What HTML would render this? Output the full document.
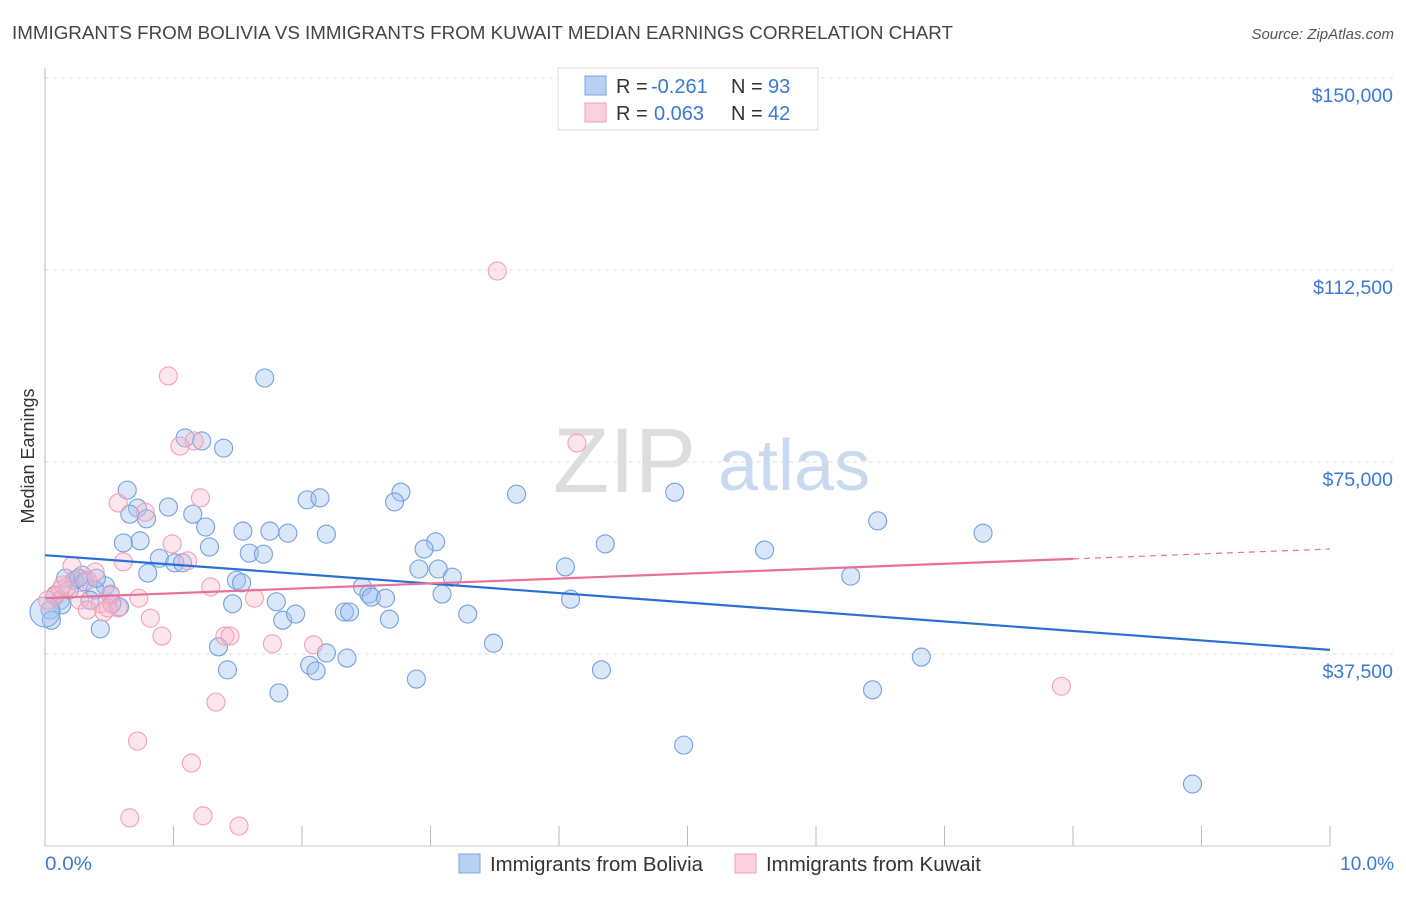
<!DOCTYPE html>
<html><head><meta charset="utf-8"><style>
body{margin:0;background:#fff;font-family:"Liberation Sans",sans-serif;}
svg text{font-family:"Liberation Sans",sans-serif;}
</style></head><body>
<svg id="chart" width="1406" height="892">
<text x="12" y="39" font-size="18" fill="#444" textLength="941" lengthAdjust="spacingAndGlyphs">IMMIGRANTS FROM BOLIVIA VS IMMIGRANTS FROM KUWAIT MEDIAN EARNINGS CORRELATION CHART</text>
<text x="1394" y="39" font-size="15" fill="#555" font-style="italic" text-anchor="end">Source: ZipAtlas.com</text>
<g><text x="553" y="492" font-size="92" fill="#ddd" font-family="Liberation Serif,serif">ZIP</text><text x="718" y="490" font-size="72" fill="#c9daf0">atlas</text></g>
<g id="grid"></g><g id="marks"></g>
<text transform="translate(34,456) rotate(-90)" font-size="18" fill="#333" text-anchor="middle">Median Earnings</text>
<text x="45" y="870" font-size="19" fill="#3a78d4" textLength="47" lengthAdjust="spacingAndGlyphs">0.0%</text>
<text x="1394" y="870" font-size="19" fill="#3a78d4" text-anchor="end">10.0%</text>
<g>
<rect x="558" y="68" width="260" height="62" fill="#fff" stroke="#ddd"/>
<rect x="585" y="76" width="21" height="19" fill="#b8d0f2" stroke="#7aa6e4"/>
<rect x="585" y="103" width="21" height="19" fill="#fcd0dc" stroke="#f0a0b8"/>
<text x="616" y="93" font-size="20" fill="#333">R = <tspan fill="#3a78d4" x="651">-0.261</tspan><tspan x="731">N = </tspan><tspan fill="#3a78d4" x="768">93</tspan></text>
<text x="616" y="120" font-size="20" fill="#333">R = <tspan fill="#3a78d4" x="654">0.063</tspan><tspan x="731">N = </tspan><tspan fill="#3a78d4" x="768">42</tspan></text>
</g>
<g>
<rect x="459" y="854" width="21" height="19" fill="#b8d0f2" stroke="#7aa6e4"/>
<text x="490" y="871" font-size="20" fill="#333" textLength="213" lengthAdjust="spacingAndGlyphs">Immigrants from Bolivia</text>
<rect x="735" y="854" width="21" height="19" fill="#fcd0dc" stroke="#f0a0b8"/>
<text x="766" y="871" font-size="20" fill="#333" textLength="215" lengthAdjust="spacingAndGlyphs">Immigrants from Kuwait</text>
</g>
</svg>
<script>
const yTicks=[37500,75000,112500,150000];
const yTickLabels=["$37,500","$75,000","$112,500","$150,000"];
const boliviaX=[1.71,1.09,1.22,1.39,0.64,0.72,0.96,0.66,0.79,1.15,1.25,1.54,1.75,1.89,1.28,0.61,0.74,0.89,1.01,1.07,0.80,1.59,1.70,2.04,2.14,2.19,2.77,2.72,3.67,4.90,6.48,7.30,4.36,5.60,3.04,2.95,2.91,3.06,3.17,4.05,6.27,2.47,2.52,2.54,2.65,3.09,3.29,4.09,1.49,1.53,1.46,1.80,1.85,1.95,2.33,2.37,2.68,1.35,1.42,2.06,2.11,2.19,2.35,1.82,2.89,3.49,4.33,6.82,6.44,4.97,8.93,0.43,0.47,0.58,0.51,0.29,0.23,0.31,0.39,0.12,0.13,0.04,0.08,0.19,0.35,0.52,0.16,0.26,0.40,0.05,0.0];
const boliviaY=[91.4,79.7,79.1,77.7,69.5,66.0,66.2,64.8,63.9,64.8,62.3,61.5,61.5,61.1,58.4,59.2,59.6,56.2,55.3,55.3,53.3,57.2,57.0,67.6,68.0,60.9,69.1,67.2,68.7,69.1,63.5,61.1,59.0,57.8,59.4,58.0,54.1,54.1,52.5,54.5,52.7,50.6,49.2,48.6,48.4,49.2,45.3,48.2,51.9,51.4,47.3,47.7,44.1,45.3,45.7,45.7,44.3,38.9,34.4,35.3,34.2,37.7,36.7,29.9,32.6,39.6,34.4,36.9,30.5,19.7,12.1,42.4,50.8,46.7,49.0,52.9,51.9,51.6,50.0,48.0,47.1,46.1,49.0,50.0,48.0,47.3,52.3,52.3,52.3,44.1,45.7];
const kuwaitX=[3.52,0.96,1.16,1.05,4.14,1.21,0.57,0.78,0.99,1.11,0.61,1.29,1.63,0.73,0.82,0.91,1.40,1.44,1.77,2.09,1.33,0.72,1.14,0.66,1.23,1.51,7.91,0.21,0.39,0.33,0.12,0.08,0.02,0.17,0.51,0.43,0.27,0.33,0.46,0.57,0.14,0.49];
const kuwaitY=[112.3,91.8,79.1,78.1,78.7,68.0,67.0,65.2,59.0,55.7,55.5,50.6,48.4,48.4,44.5,41.0,41.0,41.0,39.5,39.3,28.1,20.5,16.2,5.5,5.9,3.9,31.2,54.7,53.5,51.9,50.0,48.8,48.0,50.6,49.2,47.3,48.0,46.1,45.7,46.5,51.0,46.5];
const boliviaTrend=[56.8,38.3];
const kuwaitTrend=[48.4,58.0];
const xS=v=>45+v*128.5, yS=k=>846-k*1000/195.3;
const NS="http://www.w3.org/2000/svg";
const grid=document.getElementById('grid'), marks=document.getElementById('marks');
function mk(tag,at,p){const e=document.createElementNS(NS,tag);for(const k in at)e.setAttribute(k,at[k]);p.appendChild(e);return e;}
yTicks.forEach((t,i)=>{
 const l=mk('line',{x1:45,x2:1393,y1:yS(t/1000),y2:yS(t/1000),stroke:'#ddd','stroke-dasharray':'4,4'},grid);
 
 
 const tx=mk('text',{x:1393,y:yS(t/1000)+24,'font-size':19.5,fill:'#3a78d4','text-anchor':'end'},grid);
 tx.textContent=yTickLabels[i];
 
 
});
const ax=mk('line',{x1:45,x2:45,y1:68,y2:846,stroke:'#bbb'},grid);


const bx=mk('line',{x1:45,x2:1330,y1:846,y2:846,stroke:'#ccc'},grid);


for(let i=0;i<=10;i++){const t=mk('line',{x1:xS(i),x2:xS(i),y1:826,y2:846,stroke:'#bbb'},grid);
 
 }
function dots(X,Y,fill,stroke,name){X.forEach((x,i)=>{
 const c=mk('circle',{cx:xS(x),cy:yS(Y[i]),r:(x===0?15:9),fill:fill,stroke:stroke,'stroke-width':1.1},marks);
 
 });}
dots(boliviaX,boliviaY,'rgba(160,196,240,0.4)','#73a0e0','bolivia-point');
dots(kuwaitX,kuwaitY,'rgba(248,180,200,0.35)','#f0a0b8','kuwait-point');
const bl=mk('line',{x1:xS(0),y1:yS(boliviaTrend[0]),x2:xS(10),y2:yS(boliviaTrend[1]),stroke:'#2a6fd6','stroke-width':2.2},marks);


const k8=kuwaitTrend[0]+(kuwaitTrend[1]-kuwaitTrend[0])*0.8;
const kl=mk('line',{x1:xS(0),y1:yS(kuwaitTrend[0]),x2:xS(8),y2:yS(k8),stroke:'#e8709a','stroke-width':2.2},marks);


const kd=mk('line',{x1:xS(8),y1:yS(k8),x2:xS(10),y2:yS(kuwaitTrend[1]),stroke:'#e8709a','stroke-width':1.2,'stroke-dasharray':'6,5'},marks);


</script>
</body></html>
